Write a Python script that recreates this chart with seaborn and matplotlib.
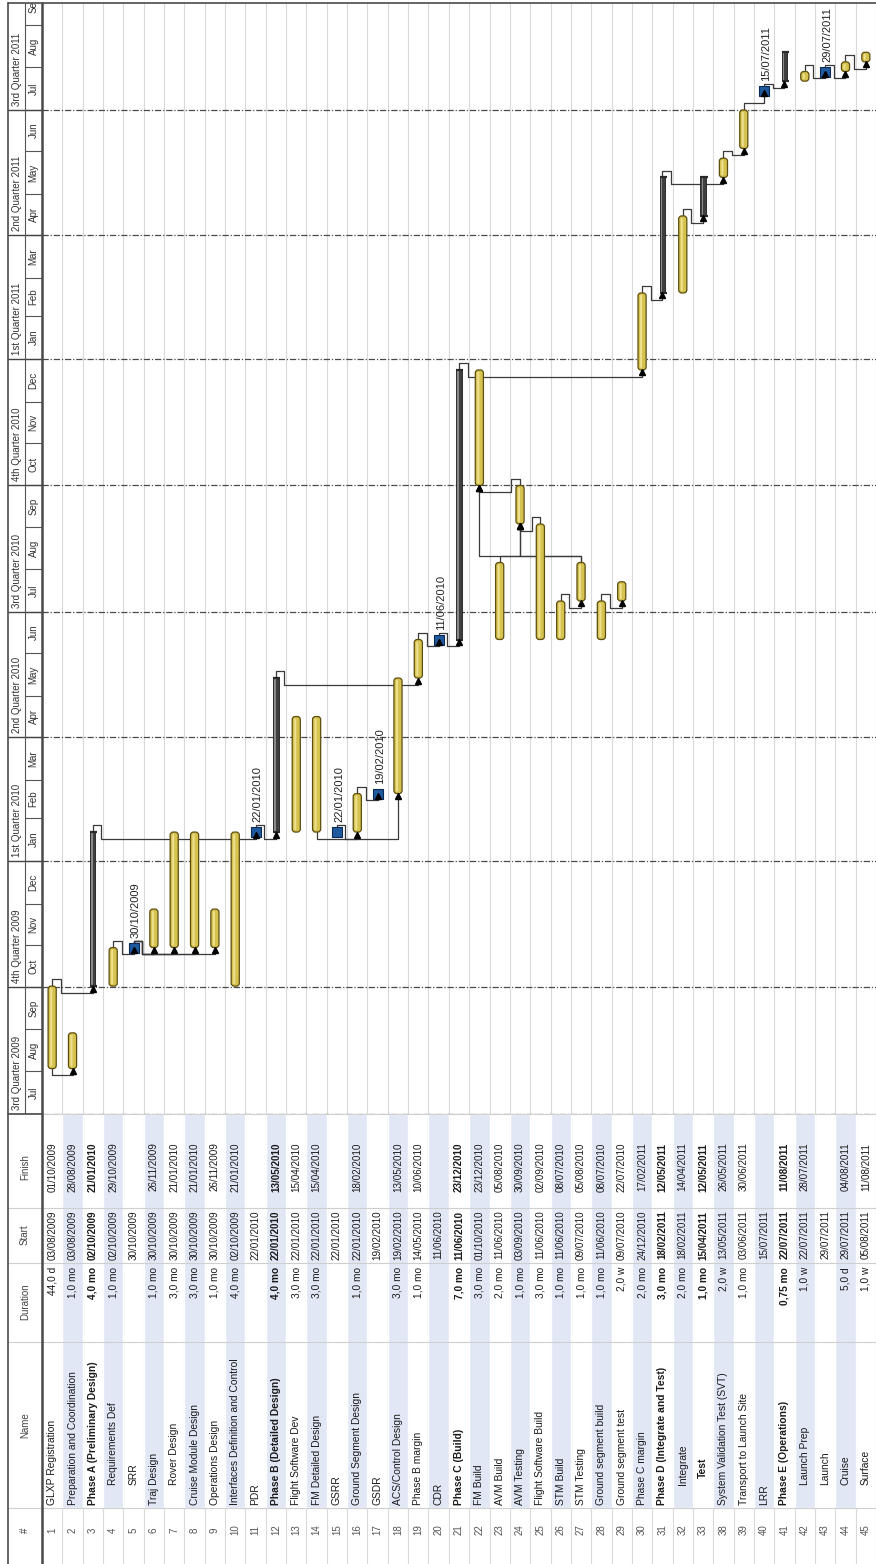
import numpy as np
import pandas as pd
import seaborn as sns
import matplotlib.pyplot as plt
from matplotlib.patches import FancyBboxPatch
from matplotlib.lines import Line2D

task_ids = list(range(1, 34)) + [38, 39, 40, 41, 42, 43, 44, 45]
task_names = [
    "GLXP Registration", "Preparation and Coordination", "Phase A (Preliminary Design)",
    "Requirements Def", "SRR", "Traj Design", "Rover Design", "Cruise Module Design",
    "Operations Design", "Interfaces Definition and Control", "PDR",
    "Phase B (Detailed Design)", "Flight Software Dev", "FM Detailed Design", "GSRR",
    "Ground Segment Design", "GSDR", "ACS/Control Design", "Phase B margin", "CDR",
    "Phase C (Build)", "FM Build", "AVM Build", "AVM Testing", "Flight Software Build",
    "STM Build", "STM Testing", "Ground segment build", "Ground segment test",
    "Phase C margin", "Phase D (Integrate and Test)", "Integrate", "Test",
    "System Validation Test (SVT)", "Transport to Launch Site", "LRR",
    "Phase E (Operations)", "Launch Prep", "Launch", "Cruise", "Surface",
]
durations = [
    "44,0 d", "1,0 mo", "4,0 mo", "1,0 mo", "", "1,0 mo", "3,0 mo", "3,0 mo", "1,0 mo",
    "4,0 mo", "", "4,0 mo", "3,0 mo", "3,0 mo", "", "1,0 mo", "", "3,0 mo", "1,0 mo", "",
    "7,0 mo", "3,0 mo", "2,0 mo", "1,0 mo", "3,0 mo", "1,0 mo", "1,0 mo", "1,0 mo",
    "2,0 w", "2,0 mo", "3,0 mo", "2,0 mo", "1,0 mo", "2,0 w", "1,0 mo", "",
    "0,75 mo", "1,0 w", "", "5,0 d", "1,0 w",
]
starts = [
    "03/08/2009", "03/08/2009", "02/10/2009", "02/10/2009", "30/10/2009", "30/10/2009",
    "30/10/2009", "30/10/2009", "30/10/2009", "02/10/2009", "22/01/2010", "22/01/2010",
    "22/01/2010", "22/01/2010", "22/01/2010", "22/01/2010", "19/02/2010", "19/02/2010",
    "14/05/2010", "11/06/2010", "11/06/2010", "01/10/2010", "11/06/2010", "03/09/2010",
    "11/06/2010", "11/06/2010", "09/07/2010", "11/06/2010", "09/07/2010", "24/12/2010",
    "18/02/2011", "18/02/2011", "15/04/2011", "13/05/2011", "03/06/2011", "15/07/2011",
    "22/07/2011", "22/07/2011", "29/07/2011", "29/07/2011", "05/08/2011",
]
finishes = [
    "01/10/2009", "28/08/2009", "21/01/2010", "29/10/2009", "", "26/11/2009",
    "21/01/2010", "21/01/2010", "26/11/2009", "21/01/2010", "", "13/05/2010",
    "15/04/2010", "15/04/2010", "", "18/02/2010", "", "13/05/2010",
    "10/06/2010", "", "23/12/2010", "23/12/2010", "05/08/2010", "30/09/2010",
    "02/09/2010", "08/07/2010", "05/08/2010", "08/07/2010", "22/07/2010", "17/02/2011",
    "12/05/2011", "14/04/2011", "12/05/2011", "26/05/2011", "30/06/2011", "",
    "11/08/2011", "28/07/2011", "", "04/08/2011", "11/08/2011",
]
summary_ids = [3, 12, 21, 31, 33, 41]
milestone_ids = [5, 11, 15, 17, 20, 40, 43]
links_fs = [(1, 3), (4, 5), (5, 6), (5, 7), (5, 8), (5, 9), (3, 11), (11, 12),
            (15, 16), (16, 17), (12, 19), (19, 20), (20, 21), (23, 24), (25, 24),
            (27, 24), (27, 22), (24, 22), (26, 27), (28, 29), (21, 30), (30, 31),
            (32, 33), (31, 38), (38, 39), (39, 40), (40, 41), (42, 43), (43, 44),
            (44, 45)]
links_ss = [(1, 2), (14, 18)]

# ---- derived values ----
origin = pd.Timestamp("2009-07-01")
df = pd.DataFrame({"id": task_ids, "name": task_names, "dur": durations,
                   "start": starts, "finish": finishes})
df["pos"] = np.arange(1, len(df) + 1)
df["d0"] = (pd.to_datetime(df["start"], dayfirst=True) - origin).dt.days
fin = pd.to_datetime(df["finish"].replace("", None), dayfirst=True)
df["d1"] = ((fin - origin).dt.days + 1).fillna(df["d0"]).astype(int)
df.loc[df["id"].isin(milestone_ids), "d1"] = df["d0"]
df["kind"] = np.where(df["id"].isin(milestone_ids), "milestone",
                      np.where(df["id"].isin(summary_ids), "summary", "task"))
rows = df.set_index("id")

# ---- layout ----
sns.set_style("white")
plt.rcParams["font.family"] = ["Liberation Sans", "DejaVu Sans"]
W, H = 876, 1564
fig = plt.figure(figsize=(W / 100, H / 100), dpi=100)


def box(x0, y0, x1, y1):
    return [x0 / W, 1 - y1 / H, (x1 - x0) / W, (y1 - y0) / H]


TOP, GB = 3, 1114
ax = fig.add_axes(box(42, TOP, W, GB))
hdr = fig.add_axes(box(8, TOP, 42, GB), sharey=ax)
tab = fig.add_axes(box(42, GB, W, H), sharex=ax)
thd = fig.add_axes(box(8, GB, 42, H), sharey=tab)
for a in (ax, hdr, tab, thd):
    a.set_axis_off()

ymax = (GB - TOP) / 1.3753
ax.set_xlim(0.5, len(df) + 0.5)
ax.set_ylim(0, ymax)
hdr.set_xlim(0, 1)
tab.set_ylim(450, 0)
thd.set_xlim(0, 1)

grid_c = "#d9d9d9"
for k in range(len(df) + 1):
    ax.axvline(k + 0.5, color=grid_c, lw=0.8, zorder=0)
    tab.axvline(k + 0.5, color=grid_c, lw=0.8, zorder=0)

# timeline header
months = pd.date_range("2009-07-01", "2011-10-01", freq="MS")
mdays = (months - origin).days
for d in mdays:
    hdr.plot([0.5, 1], [d, d], color="#555555", lw=0.8)
for m0, m1, m in zip(mdays[:-1], mdays[1:], months[:-1]):
    hdr.text(0.75, (m0 + m1) / 2, m.strftime("%b"), rotation=90, ha="center",
             va="center", fontsize=7, color="#333333", clip_on=True)
quarters = pd.date_range("2009-07-01", "2011-10-01", freq="QS")
ordinal = {1: "1st", 2: "2nd", 3: "3rd", 4: "4th"}
for q in quarters:
    d = (q - origin).days
    hdr.plot([0, 1], [d, d], color="#444444", lw=1.0)
    ax.axhline(d, color="#4a4a4a", lw=0.9, ls=(0, (5, 1.5, 1, 1.5)), zorder=1)
    if d < ymax - 60:
        hdr.text(0.27, d + 3, f"{ordinal[q.quarter]} Quarter {q.year}", rotation=90,
                 ha="center", va="bottom", fontsize=7, color="#333333", clip_on=True)
hdr.axvline(0.5, color="#555555", lw=0.8)

# ---- gantt marks ----
aspect = (ymax / (GB - TOP)) / (len(df) / (W - 42))
tasks = df[df["kind"] == "task"]
for _, r in tasks.iterrows():
    ax.add_patch(FancyBboxPatch((r["pos"] - 0.2, r["d0"]), 0.4, r["d1"] - r["d0"],
                                boxstyle="round,pad=0,rounding_size=0.15",
                                mutation_aspect=aspect, fc="#d6c24f", ec="#5c4e0e",
                                lw=0.9, zorder=3))
    ax.add_patch(FancyBboxPatch((r["pos"] - 0.1, r["d0"] + 1.5), 0.1,
                                max(r["d1"] - r["d0"] - 3, 0.5),
                                boxstyle="round,pad=0,rounding_size=0.04",
                                mutation_aspect=aspect, fc="#ede08f", ec="none",
                                zorder=3.5))

summ = df[df["kind"] == "summary"]
ax.bar(summ["pos"], summ["d1"] - summ["d0"], bottom=summ["d0"], width=0.26,
       color="#3f3f3f", edgecolor="#1e1e1e", lw=0.6, zorder=3)
ax.bar(summ["pos"] - 0.04, summ["d1"] - summ["d0"], bottom=summ["d0"], width=0.07,
       color="#8a8a8a", lw=0, zorder=3.2)
for _, r in summ.iterrows():
    for d in (r["d0"], r["d1"]):
        ax.plot([r["pos"] - 0.13, r["pos"] + 0.22], [d, d], color="#2a2a2a", lw=1.6,
                zorder=3.3, solid_capstyle="butt")

# dependency links
g = 5


def link_path(p, s, kind):
    px, sx = rows.loc[p, "pos"], rows.loc[s, "pos"]
    ss = rows.loc[s, "d0"]
    if kind == "SS":
        pe = rows.loc[p, "d0"]
        return [px, px, sx, sx], [pe, pe - g, pe - g, ss]
    pe = rows.loc[p, "d1"]
    if ss - pe >= 2 * g:
        return [px, px, sx, sx], [pe, pe + g, pe + g, ss]
    hx = px + 0.42 * np.sign(sx - px)
    return [px, px, hx, hx, sx, sx], [pe, pe + g, pe + g, ss - g, ss - g, ss]


for kind, links in (("FS", links_fs), ("SS", links_ss)):
    for p, s in links:
        xs, ys = link_path(p, s, kind)
        ax.plot(xs, ys, color="#3a3a3a", lw=0.9, zorder=2)
        ax.plot(xs[-1], ys[-1] - 1.8, marker="^", ms=4.5, color="black", zorder=6)

# milestones
ms = df[df["kind"] == "milestone"]
sns.scatterplot(data=ms, x="pos", y="d0", marker="s", s=48, color="#1f5a9e",
                edgecolor="#0b2a55", linewidth=0.8, ax=ax, legend=False, zorder=5)
for _, r in ms.iterrows():
    ax.annotate(r["start"], (r["pos"], r["d0"]), xytext=(1.5, 7),
                textcoords="offset points", rotation=90, ha="center", va="bottom",
                fontsize=8, color="#222222", zorder=6)
ax.set_xlim(0.5, len(df) + 0.5)
ax.set_ylim(0, ymax)

# ---- table ----
col_lines = [94, 149, 228, 394]
shaded = df[df["pos"] % 2 == 0]
tab.bar(shaded["pos"], 394, bottom=0, width=1, color="#e2e7f6", zorder=0.5)
for y in col_lines:
    tab.axhline(y, color="#cfcfcf", lw=0.8, zorder=1)
    thd.axhline(y, color="#cfcfcf", lw=0.8)
tab.axhline(0, color="#cfcfcf", lw=0.8)

indent = {4: 20, 5: 20, 7: 20, 32: 20, 33: 27, 42: 20, 43: 20, 44: 20, 45: 20}
for _, r in df.iterrows():
    w = "bold" if r["kind"] == "summary" else "normal"
    kw = dict(rotation=90, ha="center", color="#1a1a1a", fontweight=w)
    x = r["pos"]
    tab.text(x, 53, r["finish"], va="center", fontsize=7.1, **kw)
    tab.text(x, 121, r["start"], va="center", fontsize=7.1, **kw)
    tab.text(x, 153, r["dur"], va="top", fontsize=7.3, **kw)
    tab.text(x, 391 - indent.get(r["id"], 0), r["name"], va="bottom", fontsize=7.4, **kw)
    tab.text(x, 416, str(r["id"]), va="center", rotation=90, ha="center",
             fontsize=7, color="#555555")

for label, y in (("Finish", 53), ("Start", 121), ("Duration", 188), ("Name", 311),
                 ("#", 416)):
    thd.text(0.5, y, label, rotation=90, ha="center", va="center", fontsize=7,
             color="#444444")

# frame lines
frame = dict(transform=fig.transFigure, color="#4a4a4a")
fig.add_artist(Line2D([8 / W, 8 / W], [0, 1 - TOP / H], lw=1.2, **frame))
fig.add_artist(Line2D([42 / W, 42 / W], [0, 1 - TOP / H], lw=1.8, **frame))
fig.add_artist(Line2D([8 / W, 1], [1 - TOP / H, 1 - TOP / H], lw=1.2, **frame))
fig.add_artist(Line2D([8 / W, 42 / W], [1 - GB / H, 1 - GB / H], lw=1.2, **frame))

fig.savefig("out.png", dpi=100, facecolor="white")
